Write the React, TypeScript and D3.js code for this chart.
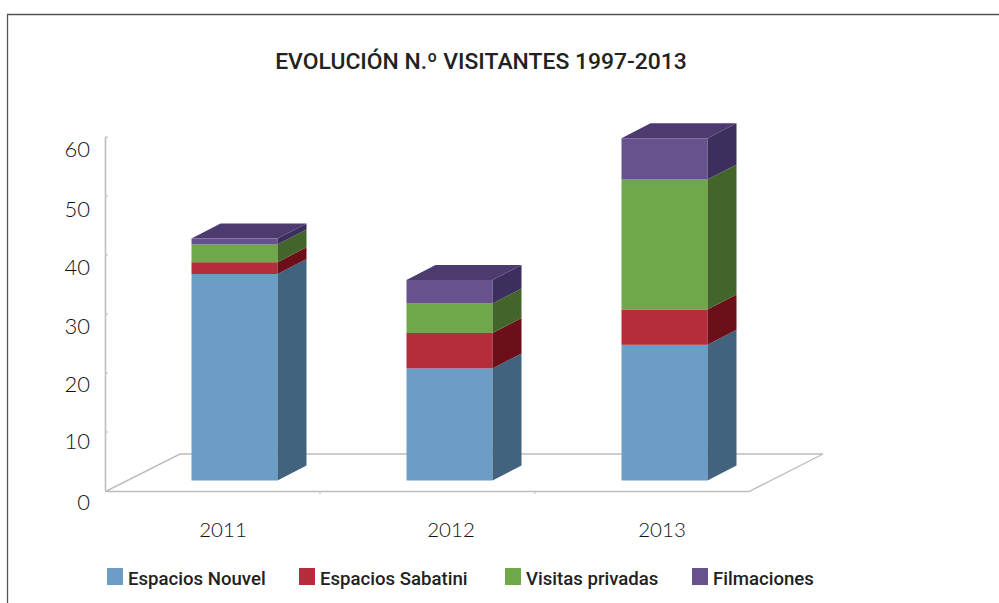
import React from "react";
import * as d3 from "d3";

const years = ["2011", "2012", "2013"];
const seriesNames = ["Espacios Nouvel", "Espacios Sabatini", "Visitas privadas", "Filmaciones"];
const nouvel = [35, 19, 23];
const sabatini = [2, 6, 6];
const privadas = [3, 5, 22];
const filmaciones = [1, 4, 7];
const yTicks = [0, 10, 20, 30, 40, 50, 60];

const frontColors = ["#6c9dc6", "#b52d3a", "#70a74a", "#67528e"];
const sideColors = ["#42637d", "#6c0f18", "#426629", "#3c2f5e"];
const topColor = "#4d3b70";
const textColor = "#111";
const axisColor = "#bdbdbd";
const uiFont = "Roboto, sans-serif";
const numFont = "Lato, sans-serif";

const DX = 29;
const DY = 15;
const yLabelNudge = [11, 9, 11, 12, 12, 13, 12];
const xLabelCenters = [223, 451, 662];
const legendX = [107, 299, 505, 692];

export default function App() {
  const rows = years.map((y, i) => ({
    year: y,
    [seriesNames[0]]: nouvel[i],
    [seriesNames[1]]: sabatini[i],
    [seriesNames[2]]: privadas[i],
    [seriesNames[3]]: filmaciones[i],
  }));
  const stacked = d3.stack<any>().keys(seriesNames)(rows);

  const yBar = d3.scaleLinear().domain([0, 60]).range([480.5, 126.5]);
  const yAxis = d3.scaleLinear().domain([0, 60]).range([491, 137]);
  const xBand = d3.scalePoint().domain(years).range([191.5, 621.5]);
  const w = 86;

  return (
    <svg
      width={999}
      height={603}
      style={{ position: "absolute", left: 0, top: 0, background: "#fff" }}
    >
      <path d="M7.5,603V14.5H999" fill="none" stroke="#555" strokeWidth={1.3} />
      <text
        x={481}
        y={69}
        textAnchor="middle"
        fontFamily={uiFont}
        fontWeight={500}
        fontSize={22.9}
        fill="#222"
      >
        EVOLUCIÓN N.º VISITANTES 1997-2013
      </text>

      {/* floor */}
      <path
        d="M105.5,491.5L180,454H823L749,491.5H105.5"
        fill="none"
        stroke={axisColor}
        strokeWidth={1.4}
      />
      <line x1={105.5} x2={105.5} y1={yAxis(60)} y2={yAxis(0)} stroke={axisColor} strokeWidth={1.6} />
      {yTicks.map((t, i) => (
        <g key={t}>
          <line x1={105} x2={108} y1={yAxis(t)} y2={yAxis(t)} stroke={axisColor} />
          <text
            x={90}
            y={yAxis(t) + yLabelNudge[i] + 8}
            textAnchor="end"
            fontFamily={numFont}
            fontWeight={300}
            fontSize={22}
            fill={textColor}
          >
            {t}
          </text>
        </g>
      ))}
      {[320, 535].map((px) => (
        <line key={px} x1={px} x2={px} y1={491} y2={494} stroke={axisColor} />
      ))}

      {/* bars */}
      {years.map((year, yi) => {
        const left = xBand(year) as number;
        const right = left + w;
        return (
          <g key={year}>
            {stacked.map((s, si) => {
              const y0 = yBar(s[yi][0]);
              const y1 = yBar(s[yi][1]);
              return (
                <g key={s.key}>
                  <rect x={left} y={y1} width={w} height={y0 - y1} fill={frontColors[si]} />
                  <path
                    d={`M${right},${y0}L${right + DX},${y0 - DY}V${y1 - DY}L${right},${y1}Z`}
                    fill={sideColors[si]}
                  />
                </g>
              );
            })}
            {(() => {
              const t = yBar(stacked[3][yi][1]);
              return (
                <path
                  d={`M${left},${t}L${left + DX},${t - DY}H${right + DX}L${right},${t}Z`}
                  fill={topColor}
                />
              );
            })()}
          </g>
        );
      })}

      {years.map((y, i) => (
        <text
          key={y}
          x={xLabelCenters[i]}
          y={537}
          textAnchor="middle"
          fontFamily={numFont}
          fontWeight={300}
          fontSize={20.5}
          fill={textColor}
        >
          {y}
        </text>
      ))}

      {seriesNames.map((n, i) => (
        <g key={n}>
          <rect x={legendX[i]} y={568} width={16} height={17} fill={frontColors[i]} />
          <text
            x={legendX[i] + 21}
            y={584.5}
            fontFamily={uiFont}
            fontWeight={500}
            fontSize={18.6}
            fill="#222"
          >
            {n}
          </text>
        </g>
      ))}
    </svg>
  );
}
